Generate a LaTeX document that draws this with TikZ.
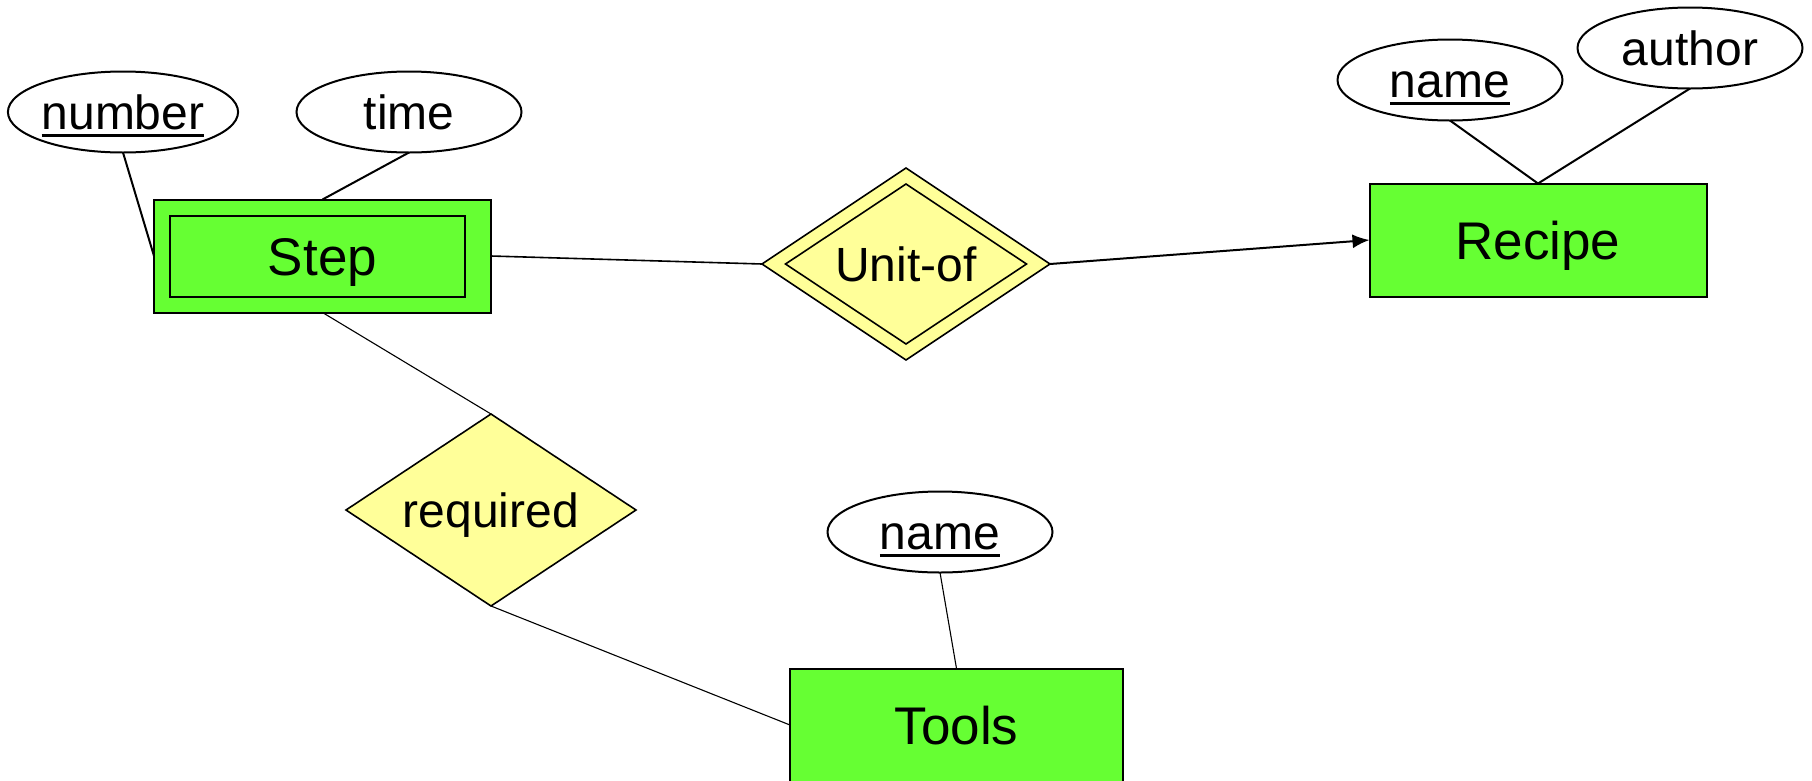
\documentclass[tikz,border=0pt]{standalone}
\usepackage{fontspec}
\setmainfont{Liberation Sans}
\usetikzlibrary{shapes.geometric,arrows.meta}

\definecolor{entgreen}{HTML}{66FF33}
\definecolor{relyellow}{HTML}{FFFF99}

% key attribute: text with a heavy underline that adds no depth
\newcommand\keyattr[1]{\setbox0\hbox{#1}\rlap{\smash{\lower7pt\hbox{\vrule width\wd0 height 3pt depth 0pt}}}\box0}

\tikzset{
  entity/.style={draw=black, line width=2pt, fill=entgreen, rectangle,
    minimum width=337pt, minimum height=113pt, inner sep=0pt, outer sep=0pt,
    font=\fontsize{53}{60}\selectfont, text height=38pt, text depth=0pt},
  attrib/.style={draw=black, line width=2pt, fill=white, ellipse,
    minimum width=225pt, minimum height=81pt, inner sep=0pt, outer sep=0pt,
    font=\fontsize{48}{56}\selectfont, text height=35pt, text depth=0pt},
  relship/.style={draw=black, line width=1.6pt, fill=relyellow, diamond, aspect=1.5,
    minimum width=290pt, minimum height=192pt, inner sep=0pt, outer sep=0pt,
    font=\fontsize{48}{56}\selectfont, text height=35pt, text depth=0pt},
  link/.style={line width=2pt},
  thinlink/.style={line width=1.1pt},
}

\begin{document}
\begin{tikzpicture}[x=1pt, y=-1pt]
  \useasboundingbox (0,0) rectangle (1812,780);

  % entities
  \node[entity] (step)   at (322.5,256) {Step};
  \node[entity] (recipe) at (1538,240)  {Recipe};
  \node[entity, minimum width=333pt] (tools) at (956.5,725) {Tools};
  % inner border of the weak entity
  \draw[line width=2pt] ([shift={(16,16)}]step.north west) rectangle ([shift={(-26,-16)}]step.south east);

  % attributes
  \node[attrib] (number)  at (123,112)  {\keyattr{number}};
  \node[attrib] (time)    at (409,112)  {time};
  \node[attrib] (rname)   at (1450,80)  {\keyattr{name}};
  \node[attrib] (author)  at (1690,48)  {author};
  \node[attrib] (tname)   at (940,532)  {\keyattr{name}};

  % relationships
  \node[relship, minimum width=288pt] (unitof) at (906,264) {Unit-of};
  \node[draw=black, line width=1.6pt, diamond, aspect=1.5, minimum width=241pt, minimum height=160pt,
        inner sep=0pt, outer sep=0pt] (unitofin) at (unitof.center) {};
  \node[relship] (required) at (491,510) {required};

  % connectors
  \draw[link] (number.south) -- (step.west);
  \draw[link] (time.south) -- (step.north);
  \draw[line width=1.6pt] (step.east) -- (unitof.west);
  \draw[link, -{Latex[length=17pt,width=14pt]}] (unitof.east) -- (recipe.west);
  \draw[link] (rname.south) -- (recipe.north);
  \draw[link] (author.south) -- (recipe.north);
  \draw[thinlink] (step.south) -- (required.north);
  \draw[thinlink] (required.south) -- (tools.west);
  \draw[thinlink] (tname.south) -- (tools.north);
\end{tikzpicture}
\end{document}
